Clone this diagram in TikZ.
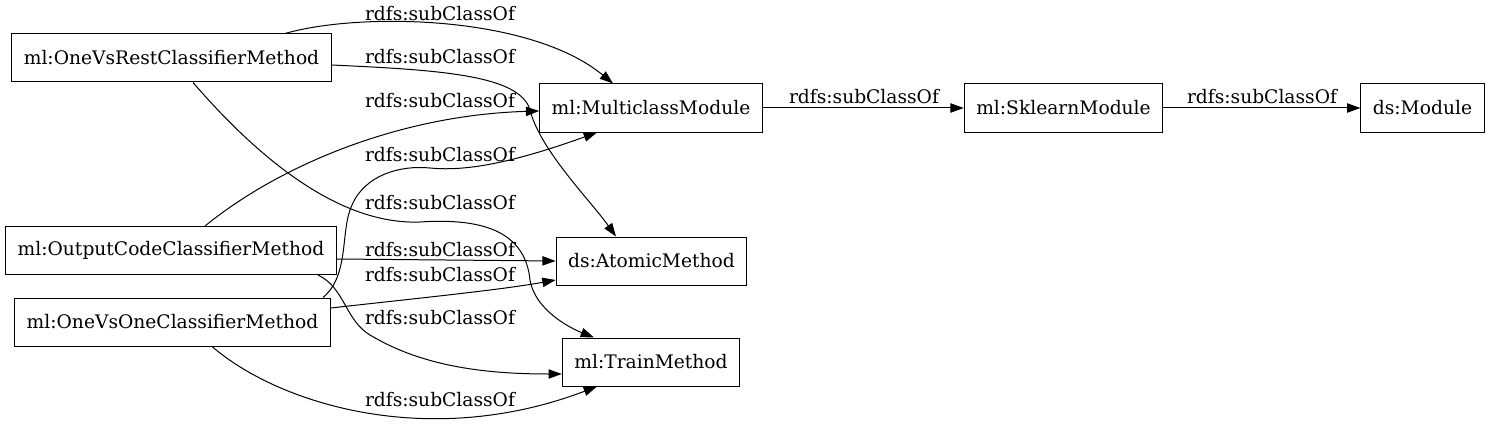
\documentclass[tikz,border=0pt]{standalone}
\usepackage{fontspec}
\setmainfont{DejaVu Serif}
\usetikzlibrary{arrows.meta,calc}

\tikzset{
  cls/.style={draw, rectangle, line width=0.75pt, minimum height=36pt, inner xsep=9pt, font=\fontsize{14pt}{16pt}\selectfont},
  sub/.style={-{Triangle[length=10pt,width=7pt]}, line width=0.75pt},
  lbl/.style={font=\fontsize{14pt}{16pt}\selectfont, inner sep=0pt}
}

\begin{document}
\begin{tikzpicture}[x=0.75pt,y=-0.75pt]
\useasboundingbox (0,0) rectangle (1489,428);
% classes
\node[cls] (ovr) at (171.5,58) {ml:OneVsRestClassifierMethod};
\node[cls] (occ) at (171,250.5) {ml:OutputCodeClassifierMethod};
\node[cls] (ovo) at (172.5,322) {ml:OneVsOneClassifierMethod};
\node[cls] (mcm) at (651,108) {ml:MulticlassModule};
\node[cls] (skl) at (1063.5,108) {ml:SklearnModule};
\node[cls] (mod) at (1422.5,108) {ds:Module};
\node[cls] (atm) at (651.5,261) {ds:AtomicMethod};
\node[cls] (trn) at (651,362) {ml:TrainMethod};

% subclass links
\draw[sub] ($(ovr.north)+(113.5,0)$) .. controls (360,12) and (530,15) .. ($(mcm.north)+(-38,0)$);
\draw[sub] ($(ovr.east)+(0,7)$) .. controls (440,70) and (520,75) .. (530,110)
           .. controls (540,150) and (590,200) .. ($(atm.north)+(-35.5,0)$);
\draw[sub] ($(ovr.south)+(21.5,0)$) .. controls (260,160) and (340,225) .. (420,222)
           .. controls (480,218) and (525,230) .. (530,280)
           .. controls (535,310) and (570,328) .. ($(trn.north)+(-57,0)$);
\draw[sub] ($(occ.north)+(34,0)$) .. controls (280,165) and (400,115) .. ($(mcm.west)+(0,3)$);
\draw[sub] ($(occ.east)+(0,8.5)$) -- (atm.west);
\draw[sub] ($(occ.south)+(147,0)$) .. controls (345,288) and (345,320) .. (370,335)
           .. controls (420,365) and (480,374) .. ($(trn.west)+(0,12)$);
\draw[sub] ($(ovo.north)+(150.5,0)$) .. controls (350,275) and (340,230) .. (352,205)
           .. controls (365,175) and (400,165) .. (430,168)
           .. controls (470,172) and (520,160) .. ($(mcm.south)+(-54,0)$);
\draw[sub] ($(ovo.east)+(0,-14)$) .. controls (420,298) and (500,290) .. ($(atm.west)+(0,19)$);
\draw[sub] ($(ovo.south)+(39.5,0)$) .. controls (280,405) and (430,450) .. ($(trn.south)+(-54,0)$);
\draw[sub] (mcm.east) -- (skl.west);
\draw[sub] (skl.east) -- (mod.west);

% labels
\node[lbl] (l1) at (440,14) {rdfs:subClassOf};
\node[lbl] (l2) at (440,57) {rdfs:subClassOf};
\node[lbl] (l3) at (440,101) {rdfs:subClassOf};
\node[lbl] (l4) at (440,155) {rdfs:subClassOf};
\node[lbl] (l5) at (440,203) {rdfs:subClassOf};
\node[lbl] (l6) at (440,250) {rdfs:subClassOf};
\node[lbl] (l7) at (440,275) {rdfs:subClassOf};
\node[lbl] (l8) at (440,318) {rdfs:subClassOf};
\node[lbl] (l9) at (440,400) {rdfs:subClassOf};
\node[lbl] (l10) at (864,97) {rdfs:subClassOf};
\node[lbl] (l11) at (1262,97) {rdfs:subClassOf};
\end{tikzpicture}
\end{document}
